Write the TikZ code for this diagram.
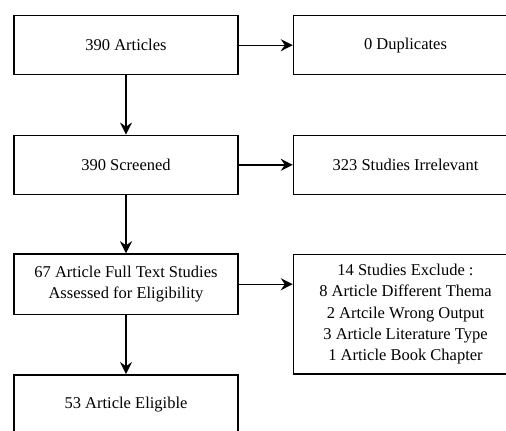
\documentclass[tikz,border=0pt]{standalone}
\usepackage{fontspec}
\setmainfont{Liberation Serif}
\usetikzlibrary{arrows.meta}
\begin{document}
\begin{tikzpicture}[x=1pt,y=-1pt,
  box/.style={draw, line width=1.4pt, minimum width=224pt, minimum height=59pt,
    align=center, inner sep=0pt, font=\fontsize{16.5}{21.3}\selectfont},
  arr/.style={-{Stealth[length=12pt,width=12pt,inset=4pt]}, line width=1.4pt}]
\useasboundingbox (0,0) rectangle (506,431);
\clip (0,0) rectangle (506,431);
\node[box] (b1) at (126,45.2) {390 Articles};
\node[box] (b2) at (405.5,45.2) {0 Duplicates};
\node[box] (b3) at (126,164.8) {390 Screened};
\node[box] (b4) at (405.5,164.8) {323 Studies Irrelevant};
\node[box, minimum height=60.5pt] (b5) at (126,284.2) {67 Article Full Text Studies\\Assessed for Eligibility};
\node[box, minimum height=119.5pt] (b6) at (405.5,314.2) {14 Studies Exclude :\\8 Article Different Thema\\2 Artcile Wrong Output\\3 Article Literature Type\\1 Article Book Chapter};
\node[box, minimum height=60pt] (b7) at (126,404.8) {53 Article Eligible};
\draw[arr] (b1) -- (b2);
\draw[arr] (b3) -- (b4);
\draw[arr] (b5) -- (b5.east -| b6.west);
\draw[arr] (b1) -- (b3);
\draw[arr] (b3) -- (b5);
\draw[arr] (b5) -- (b7);
\end{tikzpicture}
\end{document}
